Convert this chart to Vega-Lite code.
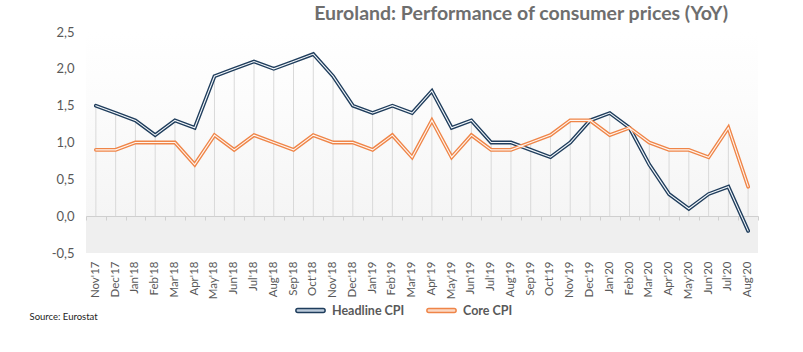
{
  "$schema": "https://vega.github.io/schema/vega-lite/v6.json",
  "width": 672,
  "height": 221,
  "autosize": {"type": "none"},
  "padding": {"left": 86, "top": 32, "right": 45, "bottom": 99},
  "background": "#ffffff",
  "title": {
    "text": "Euroland: Performance of consumer prices (YoY)",
    "anchor": "end",
    "frame": "group",
    "orient": "top",
    "offset": 0,
    "dy": 13,
    "dx": -30,
    "baseline": "alphabetic",
    "font": "Lato",
    "fontSize": 19.5,
    "fontWeight": "bold",
    "color": "#6e6e6e"
  },
  "config": {
    "font": "Lato",
    "view": {
      "stroke": null,
      "fill": {
        "gradient": "linear",
        "x1": 0, "y1": 0, "x2": 0, "y2": 1,
        "stops": [
          {"offset": 0, "color": "#ffffff"},
          {"offset": 0.3, "color": "#fcfcfc"},
          {"offset": 0.833, "color": "#f5f5f5"},
          {"offset": 0.834, "color": "#efefef"},
          {"offset": 1, "color": "#efefef"}
        ]
      }
    }
  },
  "data": {
    "values": [
      {"month": "Nov'17", "series": "Headline CPI", "value": 1.5},
      {"month": "Dec'17", "series": "Headline CPI", "value": 1.4},
      {"month": "Jan'18", "series": "Headline CPI", "value": 1.3},
      {"month": "Feb'18", "series": "Headline CPI", "value": 1.1},
      {"month": "Mar'18", "series": "Headline CPI", "value": 1.3},
      {"month": "Apr'18", "series": "Headline CPI", "value": 1.2},
      {"month": "May'18", "series": "Headline CPI", "value": 1.9},
      {"month": "Jun'18", "series": "Headline CPI", "value": 2.0},
      {"month": "Jul'18", "series": "Headline CPI", "value": 2.1},
      {"month": "Aug'18", "series": "Headline CPI", "value": 2.0},
      {"month": "Sep'18", "series": "Headline CPI", "value": 2.1},
      {"month": "Oct'18", "series": "Headline CPI", "value": 2.2},
      {"month": "Nov'18", "series": "Headline CPI", "value": 1.9},
      {"month": "Dec'18", "series": "Headline CPI", "value": 1.5},
      {"month": "Jan'19", "series": "Headline CPI", "value": 1.4},
      {"month": "Feb'19", "series": "Headline CPI", "value": 1.5},
      {"month": "Mar'19", "series": "Headline CPI", "value": 1.4},
      {"month": "Apr'19", "series": "Headline CPI", "value": 1.7},
      {"month": "May'19", "series": "Headline CPI", "value": 1.2},
      {"month": "Jun'19", "series": "Headline CPI", "value": 1.3},
      {"month": "Jul'19", "series": "Headline CPI", "value": 1.0},
      {"month": "Aug'19", "series": "Headline CPI", "value": 1.0},
      {"month": "Sep'19", "series": "Headline CPI", "value": 0.9},
      {"month": "Oct'19", "series": "Headline CPI", "value": 0.8},
      {"month": "Nov'19", "series": "Headline CPI", "value": 1.0},
      {"month": "Dec'19", "series": "Headline CPI", "value": 1.3},
      {"month": "Jan'20", "series": "Headline CPI", "value": 1.4},
      {"month": "Feb'20", "series": "Headline CPI", "value": 1.2},
      {"month": "Mar'20", "series": "Headline CPI", "value": 0.7},
      {"month": "Apr'20", "series": "Headline CPI", "value": 0.3},
      {"month": "May'20", "series": "Headline CPI", "value": 0.1},
      {"month": "Jun'20", "series": "Headline CPI", "value": 0.3},
      {"month": "Jul'20", "series": "Headline CPI", "value": 0.4},
      {"month": "Aug'20", "series": "Headline CPI", "value": -0.2},
      {"month": "Nov'17", "series": "Core CPI", "value": 0.9},
      {"month": "Dec'17", "series": "Core CPI", "value": 0.9},
      {"month": "Jan'18", "series": "Core CPI", "value": 1.0},
      {"month": "Feb'18", "series": "Core CPI", "value": 1.0},
      {"month": "Mar'18", "series": "Core CPI", "value": 1.0},
      {"month": "Apr'18", "series": "Core CPI", "value": 0.7},
      {"month": "May'18", "series": "Core CPI", "value": 1.1},
      {"month": "Jun'18", "series": "Core CPI", "value": 0.9},
      {"month": "Jul'18", "series": "Core CPI", "value": 1.1},
      {"month": "Aug'18", "series": "Core CPI", "value": 1.0},
      {"month": "Sep'18", "series": "Core CPI", "value": 0.9},
      {"month": "Oct'18", "series": "Core CPI", "value": 1.1},
      {"month": "Nov'18", "series": "Core CPI", "value": 1.0},
      {"month": "Dec'18", "series": "Core CPI", "value": 1.0},
      {"month": "Jan'19", "series": "Core CPI", "value": 0.9},
      {"month": "Feb'19", "series": "Core CPI", "value": 1.1},
      {"month": "Mar'19", "series": "Core CPI", "value": 0.8},
      {"month": "Apr'19", "series": "Core CPI", "value": 1.3},
      {"month": "May'19", "series": "Core CPI", "value": 0.8},
      {"month": "Jun'19", "series": "Core CPI", "value": 1.1},
      {"month": "Jul'19", "series": "Core CPI", "value": 0.9},
      {"month": "Aug'19", "series": "Core CPI", "value": 0.9},
      {"month": "Sep'19", "series": "Core CPI", "value": 1.0},
      {"month": "Oct'19", "series": "Core CPI", "value": 1.1},
      {"month": "Nov'19", "series": "Core CPI", "value": 1.3},
      {"month": "Dec'19", "series": "Core CPI", "value": 1.3},
      {"month": "Jan'20", "series": "Core CPI", "value": 1.1},
      {"month": "Feb'20", "series": "Core CPI", "value": 1.2},
      {"month": "Mar'20", "series": "Core CPI", "value": 1.0},
      {"month": "Apr'20", "series": "Core CPI", "value": 0.9},
      {"month": "May'20", "series": "Core CPI", "value": 0.9},
      {"month": "Jun'20", "series": "Core CPI", "value": 0.8},
      {"month": "Jul'20", "series": "Core CPI", "value": 1.2},
      {"month": "Aug'20", "series": "Core CPI", "value": 0.4}
    ]
  },
  "resolve": {"axis": {"x": "independent"}},
  "encoding": {
    "y": {
      "type": "quantitative",
      "scale": {"domain": [-0.5, 2.5], "nice": false, "zero": false},
      "axis": {
        "values": [-0.5, 0, 0.5, 1, 1.5, 2, 2.5],
        "labelExpr": "replace(replace(format(datum.value, '.1f'), '.', ','), '\u2212', '-')",
        "grid": false,
        "domain": false,
        "ticks": false,
        "labelPadding": 12,
        "labelFont": "Lato",
        "labelFontSize": 13,
        "labelColor": "#595959",
        "title": null
      }
    }
  },
  "layer": [
    {
      "mark": {"type": "rule", "color": "#d9d9d9", "strokeWidth": 1},
      "encoding": {
        "x": {
          "field": "month", "type": "ordinal", "sort": null,
          "scale": {"paddingInner": 0, "paddingOuter": 0},
          "axis": {
            "orient": "bottom",
            "labelAngle": -90,
            "labelFont": "Lato",
            "labelFontSize": 11.5,
            "labelColor": "#595959",
            "labelPadding": 8,
            "domain": false,
            "ticks": false,
            "title": "Source: Eurostat",
            "titleFont": "Lato",
            "titleFontSize": 9.5,
            "titleFontWeight": "normal",
            "titleColor": "#222222",
            "titleAnchor": "start",
            "titleAlign": "left",
            "titleBaseline": "alphabetic",
            "titleX": -57,
            "titleY": 66
          }
        },
        "y": {"field": "value", "aggregate": "max", "type": "quantitative"},
        "y2": {"datum": 0}
      }
    },
    {
      "mark": {"type": "line", "strokeWidth": 3.8, "strokeJoin": "miter", "strokeCap": "round"},
      "encoding": {
        "x": {
          "field": "month", "type": "ordinal", "sort": null,
          "axis": {
            "orient": "bottom",
            "offset": -37,
            "labels": false,
            "domain": true,
            "domainColor": "#cfcfcf",
            "domainWidth": 1,
            "ticks": true,
            "tickBand": "extent",
            "tickColor": "#cfcfcf",
            "tickSize": 4,
            "title": null,
            "grid": false
          }
        },
        "y": {"field": "value", "type": "quantitative"},
        "stroke": {
          "field": "series", "type": "nominal",
          "scale": {"domain": ["Headline CPI", "Core CPI"], "range": ["#1f3d5c", "#ef8548"]},
          "legend": {
            "orient": "none",
            "direction": "horizontal",
            "legendX": 214,
            "legendY": 268,
            "title": null,
            "symbolType": "M -1.3 -0.2 L 1.3 -0.2 A 0.2 0.2 0 0 1 1.3 0.2 L -1.3 0.2 A 0.2 0.2 0 0 1 -1.3 -0.2 Z",
            "symbolSize": 380,
            "symbolStrokeWidth": 1.5,
            "symbolOpacity": 1,
            "labelFont": "Lato",
            "labelFontSize": 12.5,
            "labelFontWeight": "bold",
            "labelColor": "#595959",
            "labelOffset": 11,
            "columnPadding": 18,
            "encode": {"symbols": {"update": {"fill": {"scale": "fill", "field": "value"}}}}
          }
        }
      }
    },
    {
      "mark": {"type": "line", "strokeWidth": 1.1, "strokeJoin": "miter", "strokeCap": "round"},
      "encoding": {
        "x": {"field": "month", "type": "ordinal", "sort": null, "axis": null},
        "y": {"field": "value", "type": "quantitative"},
        "color": {
          "field": "series", "type": "nominal",
          "scale": {"domain": ["Headline CPI", "Core CPI"], "range": ["#f4f8fc", "#fff6f0"]},
          "legend": null
        }
      }
    },
    {
      "mark": {"type": "point", "filled": true, "opacity": 0},
      "encoding": {
        "x": {"field": "month", "type": "ordinal", "sort": null, "axis": null},
        "y": {"field": "value", "type": "quantitative"},
        "fill": {
          "field": "series", "type": "nominal",
          "scale": {"domain": ["Headline CPI", "Core CPI"], "range": ["#bccbdb", "#fbd9c4"]},
          "legend": null
        }
      }
    }
  ]
}
